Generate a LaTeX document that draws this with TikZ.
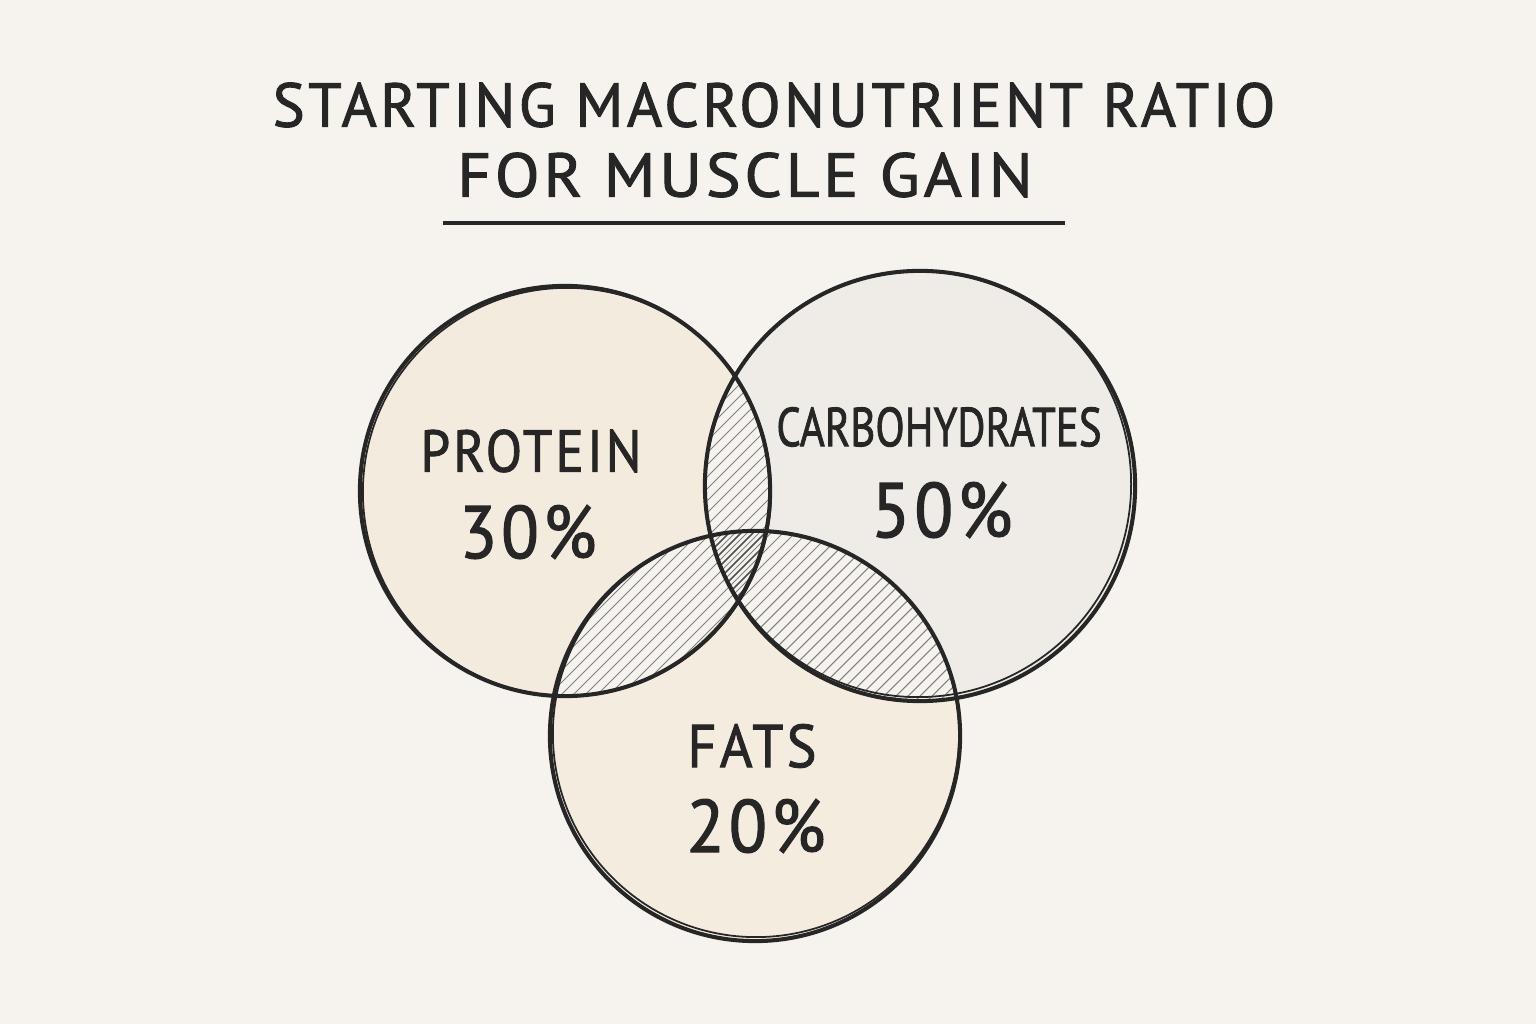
\documentclass[tikz,border=0pt]{standalone}
\usepackage{fontspec}
\setmainfont{PT Sans}[LetterSpace=6,FakeBold=1.6]
\newfontfamily\tightfont{PT Sans}[LetterSpace=0,FakeBold=1.6]
\usepackage{graphicx}
\definecolor{bgc}{HTML}{F6F3EE}
\definecolor{ink}{HTML}{262626}
\definecolor{protfill}{HTML}{F4EBDF}
\definecolor{carbfill}{HTML}{EFECE7}
\definecolor{fatfill}{HTML}{F5ECE0}
\definecolor{hatchc}{HTML}{808080}
\tikzset{
  ring/.style={draw=ink,line width=1.15pt},
  ringb/.style={draw=ink,line width=0.5pt},
  hatch/.style={draw=hatchc,line width=0.3pt},
  lbl/.style={inner sep=0pt,text=ink},
}
\newcommand{\fitbox}[3]{\resizebox{#1}{#2}{#3}}
\begin{document}
\begin{tikzpicture}[x=0.01cm,y=0.01cm]
\useasboundingbox (0,0) rectangle (1536,1024);
\fill[bgc] (0,0) rectangle (1536,1024);
\coordinate (P) at (565,533);
\coordinate (C) at (920,538);
\coordinate (F) at (755,288);
% fills
\fill[protfill] (P) circle[radius=2.05cm];
\fill[carbfill] (C) circle[radius=2.15cm];
\fill[fatfill] (F) circle[radius=2.05cm];
% pairwise hatching
\begin{scope}
  \clip (P) circle[radius=2.05cm];
  \clip (C) circle[radius=2.15cm];
  \fill[bgc] (0,0) rectangle (1536,1024);
  \foreach \k in {-500,-488,...,1200} \draw[hatch] (\k,0) -- ++(1024,1024);
\end{scope}
\begin{scope}
  \clip (P) circle[radius=2.05cm];
  \clip (F) circle[radius=2.05cm];
  \fill[bgc] (0,0) rectangle (1536,1024);
  \foreach \k in {-500,-488,...,1200} \draw[hatch] (\k,0) -- ++(1024,1024);
\end{scope}
\begin{scope}
  \clip (C) circle[radius=2.15cm];
  \clip (F) circle[radius=2.05cm];
  \fill[bgc] (0,0) rectangle (1536,1024);
  \foreach \k in {-500,-488,...,1200} \draw[hatch] (\k,0) -- ++(1024,1024);
\end{scope}
\begin{scope}
  \clip (P) circle[radius=2.05cm];
  \clip (C) circle[radius=2.15cm];
  \clip (F) circle[radius=2.05cm];
  \foreach \k in {-494,-482,...,1200} \draw[hatch,line width=0.45pt,draw=ink!80] (\k,0) -- ++(1024,1024);
\end{scope}
% outlines (sketchy double stroke)
\draw[ring] (P) circle[radius=2.05cm];
\draw[ringb] ([shift={(2,-1)}]P) circle[radius=2.04cm];
\draw[ring] (C) circle[radius=2.15cm];
\draw[ringb] ([shift={(-2,2)}]C) circle[radius=2.13cm];
\draw[ring] (F) circle[radius=2.05cm];
\draw[ringb] ([shift={(1,2)}]F) circle[radius=2.03cm];
% title
\node[lbl] (t1) at (774,919) {\fitbox{10.02cm}{0.44cm}{STARTING MACRONUTRIENT RATIO}};
\node[lbl] (t2) at (745,849) {\fitbox{5.75cm}{0.44cm}{FOR MUSCLE GAIN}};
\coordinate (u1) at (443,801);
\coordinate (u2) at (1065,801);
\draw[ink,line width=1pt] (u1) -- (u2);
% labels
\node[lbl] (pn) at (531,573) {\fitbox{2.21cm}{0.42cm}{PROTEIN}};
\node[lbl] (pv) at (528,492) {\fitbox{1.37cm}{0.53cm}{30\%}};
\node[lbl] (cn) at (939,597) {\fitbox{3.25cm}{0.39cm}{\tightfont CARBOHYDRATES}};
\node[lbl] (cv) at (942,514) {\fitbox{1.41cm}{0.55cm}{50\%}};
\node[lbl] (fn) at (752,278) {\fitbox{1.29cm}{0.43cm}{FATS}};
\node[lbl] (fv) at (756,198) {\fitbox{1.39cm}{0.53cm}{20\%}};
\end{tikzpicture}
\end{document}
